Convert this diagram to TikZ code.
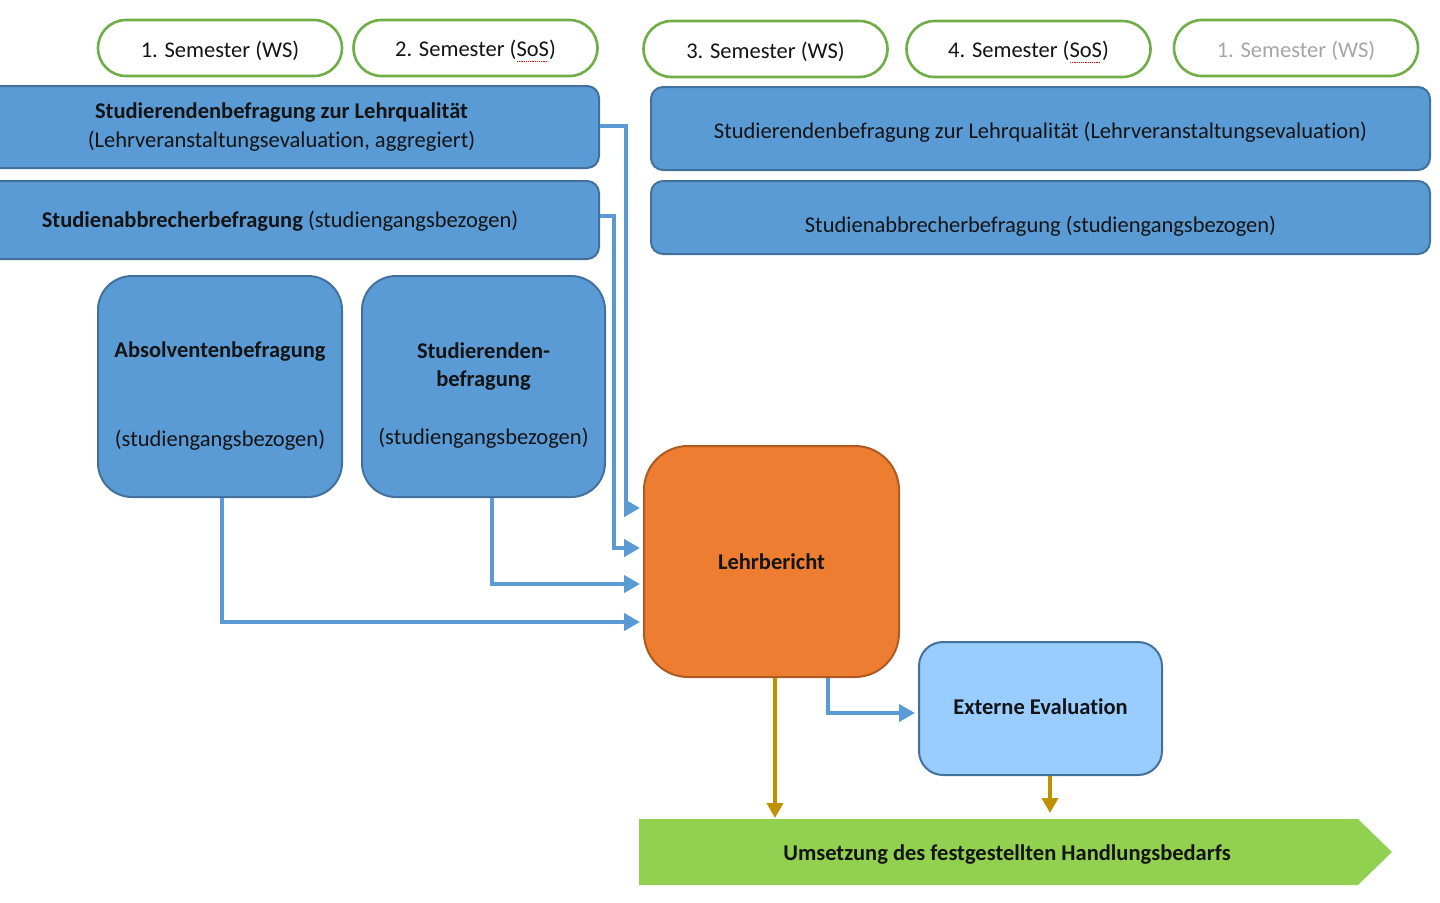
\documentclass[tikz,border=0pt]{standalone}
\usepackage{fontspec}
\setmainfont{Carlito}[Ligatures=NoCommon]
\usetikzlibrary{arrows.meta}
\definecolor{semgreen}{HTML}{70AD47}
\definecolor{barblue}{HTML}{5B9BD5}
\definecolor{barline}{HTML}{41719C}
\definecolor{lehror}{HTML}{ED7D31}
\definecolor{lehrline}{HTML}{AE5A21}
\definecolor{extblue}{HTML}{99CCFF}
\definecolor{actgreen}{HTML}{92D050}
\definecolor{goldc}{HTML}{BF9000}
\definecolor{txt}{HTML}{141414}
\definecolor{graytxt}{HTML}{A6A6A6}
\newcommand\spellmark[1]{\setbox0\hbox{#1}\rlap{\raisebox{-2.4pt}{\color{red}\leaders\hbox to 1.1pt{\hss\rule{0.55pt}{0.45pt}\hss}\hskip\wd0}}\box0}
\newcommand\semtext[1]{\raisebox{-1.5pt}[\height][\depth]{#1}}
\tikzset{
  every node/.style={font=\fontsize{11.25}{13.8}\selectfont, text=txt},
  sem/.style={draw=semgreen, line width=1.3pt, fill=white, rounded corners=14pt,
    minimum width=122pt, minimum height=28pt, inner sep=0pt},
  bar/.style={draw=barline, line width=1pt, fill=barblue, rounded corners=6pt, inner sep=0pt},
  survey/.style={draw=barline, line width=1pt, fill=barblue, rounded corners=17pt,
    minimum width=122pt, minimum height=110.5pt, inner sep=0pt},
  lehrbox/.style={draw=lehrline, line width=1pt, fill=lehror, rounded corners=22pt,
    minimum width=127.5pt, minimum height=115.5pt, inner sep=0pt},
  extbox/.style={draw=barline, line width=1pt, fill=extblue, rounded corners=12pt,
    minimum width=121.5pt, minimum height=66.5pt, inner sep=0pt},
  lbl/.style={inner sep=0pt, align=center},
  conn/.style={draw=barblue, line width=2pt, -{Triangle[length=8pt,width=8.5pt]}, shorten >=1.5pt},
  goldconn/.style={draw=goldc, line width=2pt, -{Triangle[length=7.5pt,width=8pt]}}
}
\begin{document}
\begin{tikzpicture}[x=0.5pt,y=-0.5pt]
\useasboundingbox (0,0) rectangle (1440,902);
\clip (0,0) rectangle (1440,902);
% semesters
\node[sem] (s1) at (220,48) {\semtext{1. Semester (WS)}};
\node[sem] (s2) at (475.5,48) {\semtext{2. Semester (\spellmark{SoS})}};
\node[sem] (s3) at (765.5,49) {\semtext{3. Semester (WS)}};
\node[sem] (s4) at (1028.5,49) {\semtext{4. Semester (\spellmark{SoS})}};
\node[sem, text=graytxt] (s5) at (1296,48) {\semtext{1. Semester (WS)}};
% left bars
\node[bar, minimum width=317.5pt, minimum height=41pt] (bar1) at (281.5,127) {};
\node[lbl] (bar1t) at (281.5,127) {\textbf{Studierendenbefragung zur Lehrqualität}\\[1pt](Lehrveranstaltungsevaluation, aggregiert)};
\node[bar, minimum width=317.5pt, minimum height=39pt] (bar2) at (281.5,220) {};
\node[lbl] (bar2t) at (280,221) {\textbf{Studienabbrecherbefragung} (studiengangsbezogen)};
% right bars
\node[bar, minimum width=389.5pt, minimum height=41.5pt] (rbar1) at (1040.5,128.5) {};
\node[lbl] (rbar1t) at (1040.5,132) {Studierendenbefragung zur Lehrqualität (Lehrveranstaltungsevaluation)};
\node[bar, minimum width=389.5pt, minimum height=36.5pt] (rbar2) at (1040.5,217.5) {};
\node[lbl] (rbar2t) at (1040.5,226) {Studienabbrecherbefragung (studiengangsbezogen)};
% survey boxes
\node[survey] (abs) at (220,386.5) {};
\node[lbl] (abst1) at (220,351) {\textbf{Absolventenbefragung}};
\node[lbl] (abst2) at (220,440) {(studiengangsbezogen)};
\node[survey, minimum width=121.5pt] (stud) at (483.5,386.5) {};
\node[lbl] (studt1) at (483.5,351) {\textbf{Studierenden-}};
\node[lbl] (studt2) at (483.5,380) {\textbf{befragung}};
\node[lbl] (studt3) at (483.5,438) {(studiengangsbezogen)};
% Lehrbericht
\node[lehrbox] (lehr) at (771.5,561.5) {};
\node[lbl] (lehrt) at (771.5,562) {\textbf{Lehrbericht}};
% Externe Evaluation
\node[extbox] (ext) at (1040.5,708.5) {};
\node[lbl] (extt) at (1040.5,707) {\textbf{Externe Evaluation}};
% Umsetzung arrow
\fill[actgreen] (639,819) -- (1358,819) -- (1392,852) -- (1358,885) -- (639,885) -- cycle;
\node[lbl] (ums) at (1007,854) {\textbf{Umsetzung des festgestellten Handlungsbedarfs}};
\coordinate (umsTop1) at (775,818);
\coordinate (umsTop2) at (1050,813);
% connectors
\draw[conn] (bar1.east |- 0,126) -- (626,126) |- (lehr.west |- 0,508);
\draw[conn] (bar2.east |- 0,216) -- (614,216) |- (lehr.west |- 0,548);
\draw[conn] (stud.south -| 492,0) |- (lehr.west |- 0,584);
\draw[conn] (abs.south -| 222,0) |- (lehr.west |- 0,622);
\draw[conn] (lehr.south -| 828,0) |- (ext.west |- 0,713);
\draw[goldconn] (lehr.south -| 775,0) -- (umsTop1);
\draw[goldconn] (ext.south -| 1050,0) -- (umsTop2);
\end{tikzpicture}
\end{document}
